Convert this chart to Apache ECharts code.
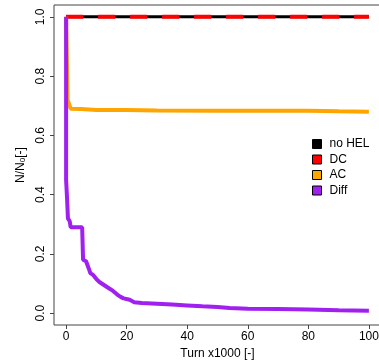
<!DOCTYPE html>
<html>
<head>
<meta charset="utf-8">
<script src="https://cdn.jsdelivr.net/npm/echarts@6/dist/echarts.min.js"></script>
<style>
  html, body { margin: 0; padding: 0; background: #fff; }
  #chart { width: 379px; height: 363px; }
</style>
</head>
<body>
<div id="chart"></div>
<script>
// tick labels
const xTicks = [0, 20, 40, 60, 80, 100];
const yTicks = [0, 0.2, 0.4, 0.6, 0.8, 1.0];

// series: [turn x1000, N/N0]
const noHel = [[0, 1], [100, 1]];
const dc = [[0, 1], [100, 1]];
const ac = [
  [0, 1], [0.5, 0.72], [1, 0.705], [1.5, 0.69], [5, 0.689], [10, 0.686],
  [20, 0.686], [30, 0.684], [50, 0.683], [80, 0.683], [90, 0.681], [100, 0.68]
];
const diff = [
  [0, 1], [0, 0.45], [0.3, 0.39], [0.5, 0.385], [0.6, 0.32], [1.2, 0.31],
  [1.5, 0.29], [5.3, 0.29], [5.6, 0.18], [6.6, 0.175], [7.5, 0.15], [8, 0.135],
  [9, 0.128], [10, 0.115], [11, 0.105], [12.5, 0.095], [14, 0.085], [15.5, 0.075],
  [17, 0.062], [18, 0.055], [19, 0.05], [21, 0.045], [22.5, 0.037], [25, 0.034],
  [30, 0.032], [35, 0.029], [40, 0.026], [45, 0.023], [50, 0.021], [54, 0.017],
  [60, 0.015], [70, 0.014], [80, 0.0125], [90, 0.01], [100, 0.008]
];

const FONT = 'Liberation Sans';
const chart = echarts.init(document.getElementById('chart'), null, { renderer: 'canvas' });

function line(name, data, color, width, type) {
  return {
    name, type: 'line', data,
    showSymbol: false, symbol: 'none',
    lineStyle: { color, width, type: type || 'solid', cap: 'butt' },
    itemStyle: { color },
    emphasis: { disabled: true }
  };
}

chart.setOption({
  animation: false,
  grid: {
    left: 54, top: 5, width: 327, height: 320,
    show: true, borderColor: '#444', borderWidth: 1,
    outerBoundsMode: 'none'
  },
  legend: {
    orient: 'vertical', left: 307, top: 133,
    icon: 'rect', itemWidth: 9, itemHeight: 9, itemGap: 3.5,
    itemStyle: { borderColor: '#000', borderWidth: 1 },
    textStyle: { fontFamily: FONT, fontSize: 12, color: '#000', padding: [0, 0, 0, 3] },
    data: ['no HEL', 'DC', 'AC', 'Diff']
  },
  xAxis: {
    type: 'value', min: -4, max: 104,
    name: 'Turn x1000 [-]', nameLocation: 'middle', nameGap: 22,
    nameTextStyle: { fontFamily: FONT, fontSize: 12, color: '#000' },
    axisLine: { show: false, onZero: false },
    splitLine: { show: false },
    axisTick: { show: true, length: 4, customValues: xTicks, lineStyle: { color: '#444' } },
    axisLabel: { customValues: xTicks, margin: 6, fontFamily: FONT, fontSize: 12, color: '#000' }
  },
  yAxis: {
    type: 'value', min: -0.04, max: 1.04,
    name: '{a|N/N}{b|0}{a|[-]}', nameLocation: 'middle', nameGap: 24,
    nameTextStyle: {
      rich: {
        a: { fontFamily: FONT, fontSize: 12, color: '#000' },
        b: { fontFamily: FONT, fontSize: 8, color: '#000', verticalAlign: 'bottom', padding: [5, 0, 0, 0] }
      }
    },
    axisLine: { show: false, onZero: false },
    splitLine: { show: false },
    axisTick: { show: true, length: 4, customValues: yTicks, lineStyle: { color: '#444' } },
    axisLabel: {
      customValues: yTicks, rotate: 90, margin: 7,
      fontFamily: FONT, fontSize: 12, color: '#000',
      formatter: v => v.toFixed(1)
    }
  },
  series: [
    line('no HEL', noHel, '#000000', 3),
    line('DC', dc, '#FF0000', 4, [17, 15]),
    line('AC', ac, '#FFA500', 4),
    line('Diff', diff, '#A020F0', 4)
  ]
});
</script>
</body>
</html>
